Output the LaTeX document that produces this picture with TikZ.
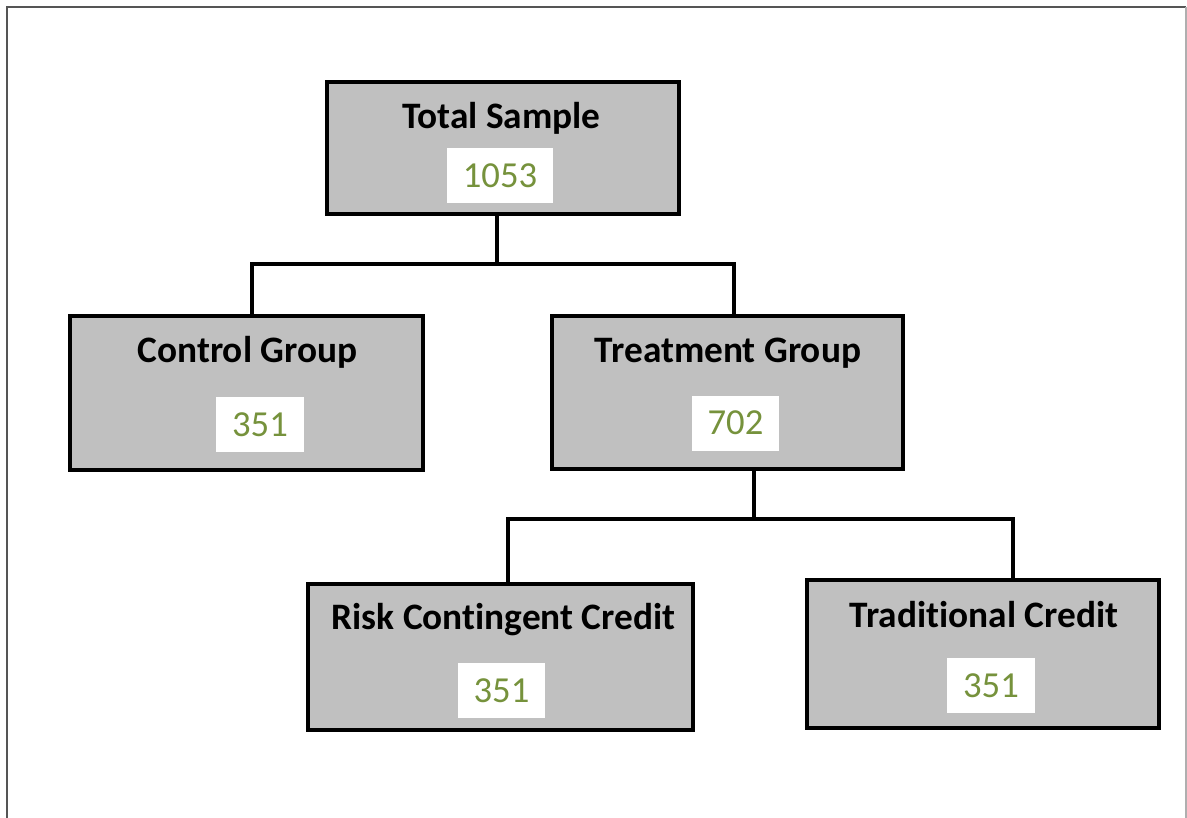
\documentclass[tikz,border=0pt]{standalone}
\usepackage{fontspec}
\setmainfont{Carlito}[Ligatures=CommonOff]
\usepackage{tikz}
\usetikzlibrary{calc}
\definecolor{box_gray}{RGB}{192, 192, 192}
\definecolor{num_green}{RGB}{118, 146, 60}
\definecolor{frame_dark}{RGB}{85, 85, 85}
\definecolor{frame_light}{RGB}{175, 175, 175}
\tikzstyle{grp}=[rectangle,fill=box_gray,draw=black,
  line width=2.4pt,inner sep=0pt]
\tikzstyle{num}=[rectangle,fill=white,text=num_green,inner sep=0pt,
  minimum width=66pt,minimum height=41.25pt,font=\fontsize{27.5}{32}\selectfont]
\tikzstyle{ttl}=[anchor=base,inner sep=0pt,font=\bfseries\fontsize{28}{33}\selectfont]
\tikzstyle{wire}=[line width=2.4pt,draw=black]
\tikzstyle{none}=[inner sep=0pt]

\begin{document}
\begin{tikzpicture}[x=0.75pt,y=-0.75pt]
            \useasboundingbox (0, 0) rectangle (1187, 817);
            % outer frame
            \draw [frame_dark, line width=1.5pt] (7, 830) -- (7, 7) -- (1186, 7);
            \draw [frame_light, line width=1.2pt] (1186, 7) -- (1186, 830);
            % boxes
            \node [style=grp, minimum width=264pt, minimum height=99pt] (0) at (503, 148) {};
            \node [style=grp, minimum width=264.75pt, minimum height=115.5pt] (1) at (246.5, 393) {};
            \node [style=grp, minimum width=263.25pt, minimum height=114.75pt] (2) at (727.5, 392.5) {};
            \node [style=grp, minimum width=288.75pt, minimum height=109.5pt] (3) at (500.5, 657) {};
            \node [style=grp, minimum width=264pt, minimum height=111pt] (4) at (983, 654) {};
            % titles
            \node [style=ttl] (5) at (501.5, 128) {Total Sample};
            \node [style=ttl] (6) at (247.5, 362) {Control Group};
            \node [style=ttl] (7) at (728, 362) {Treatment Group};
            \node [style=ttl] (8) at (503.5, 629) {Risk Contingent Credit};
            \node [style=ttl] (9) at (984, 627) {Traditional Credit};
            % counts
            \node [style=num, minimum width=79.5pt] (10) at (500, 175.5) {1053};
            \node [style=num] (11) at (260, 424.5) {351};
            \node [style=num, minimum width=65.25pt] (12) at (735.5, 423) {702};
            \node [style=num, minimum width=65.25pt] (13) at (501.5, 690.5) {351};
            \node [style=num] (14) at (991, 685.5) {351};
            % junctions
            \node [style=none] (15) at (497, 264) {};
            \node [style=none] (16) at (252, 264) {};
            \node [style=none] (17) at (734, 264) {};
            \node [style=none] (18) at (754, 519) {};
            \node [style=none] (19) at (508, 519) {};
            \node [style=none] (20) at (1013, 519) {};
            \draw [style=wire] (15.center |- 0.south) to (15.center);
            \draw [style=wire] (16.center |- 1.north) to (16.center) to (17.center) to (17.center |- 2.north);
            \draw [style=wire] (18.center |- 2.south) to (18.center);
            \draw [style=wire] (19.center |- 3.north) to (19.center) to (20.center) to (20.center |- 4.north);
    \end{tikzpicture}
\end{document}
